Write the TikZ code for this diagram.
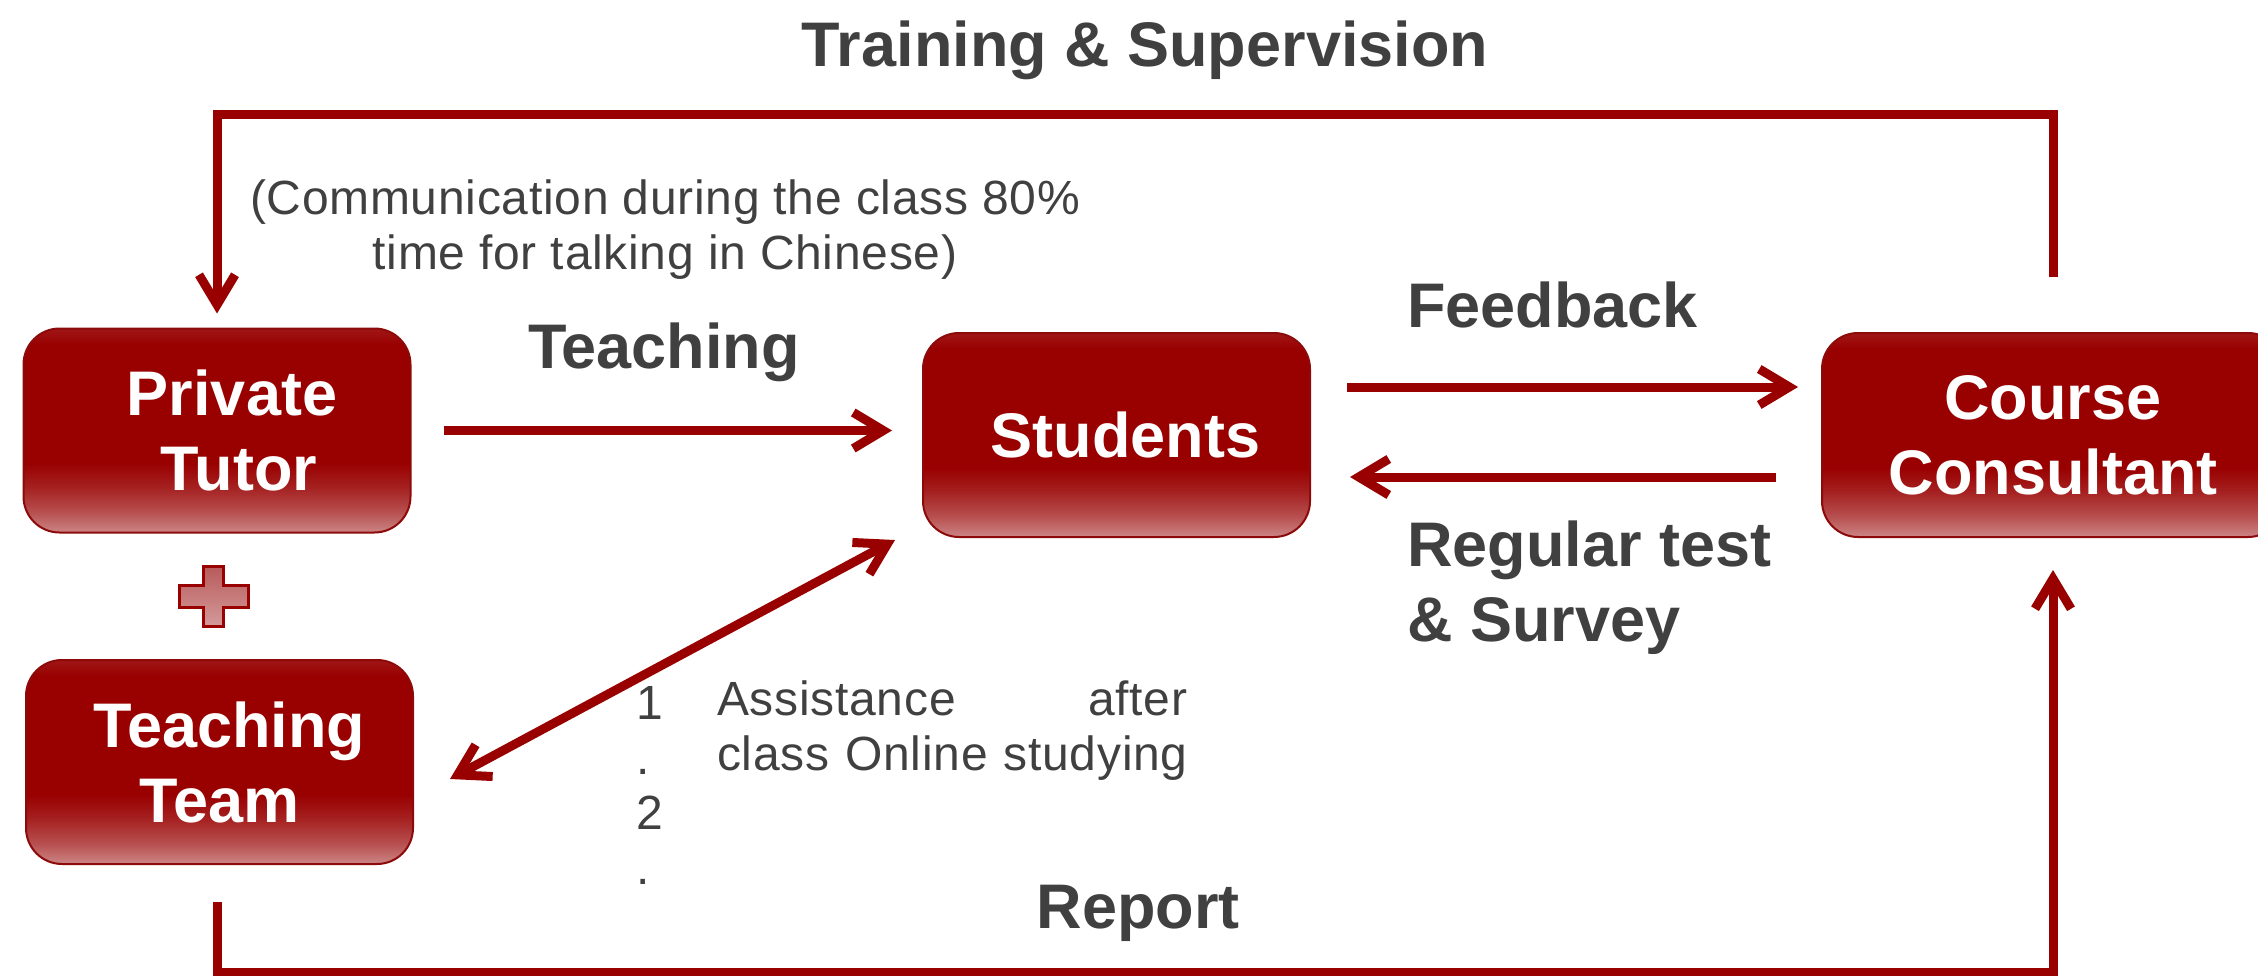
\documentclass[tikz,border=0pt]{standalone}
\usepackage{fontspec}
\setmainfont{Liberation Sans}
\newfontfamily\spacedfont[LetterSpace=1.5]{Liberation Sans}
\usetikzlibrary{arrows.meta,calc}

\definecolor{darkred}{HTML}{990000}
\definecolor{boxedge}{HTML}{8C0A0A}
\definecolor{boxlight}{HTML}{CC8585}
\definecolor{boxtop}{HTML}{A01616}
\definecolor{textgray}{HTML}{404040}
\definecolor{pluslight}{HTML}{D49A9A}
\definecolor{plusdark}{HTML}{B85A5A}

\pgfdeclareverticalshading{boxglow}{100bp}{color(0bp)=(boxlight); color(25bp)=(boxlight); color(30bp)=(boxlight!60!darkred); color(36bp)=(boxlight!25!darkred); color(42bp)=(darkred); color(71bp)=(darkred); color(75bp)=(boxtop); color(100bp)=(boxtop)}

\newcommand{\bigbold}{\fontsize{63}{75}\selectfont\bfseries}
\newcommand{\smallplain}{\spacedfont\fontsize{48}{55}\selectfont}

\begin{document}
\begin{tikzpicture}[x=1pt,y=1pt,yscale=-1,
	box/.style={rounded corners=36pt, draw=boxedge, line width=2pt, shading=boxglow, text=white, font=\bigbold, align=center, minimum width=387pt, minimum height=204pt, inner sep=0pt},
	lbl/.style={text=textgray, font=\bigbold, inner sep=0pt},
	note/.style={text=textgray, font=\smallplain, inner sep=0pt},
	flow/.style={draw=darkred, line width=9pt, -{Straight Barb[length=30pt,width=36pt,line join=miter]}},
	twoway/.style={flow, {Straight Barb[length=30pt,width=36pt,line join=miter]}-{Straight Barb[length=30pt,width=36pt,line join=miter]}}]
		\path[use as bounding box, clip] (0,0) rectangle (2258,976);

		% The four boxes
		\node[box] (tutor) at (217,430.5) {\hspace*{30pt}Private\\\hspace*{44pt}Tutor};
		\node[box] (team) at (219.5,762) {\hspace*{20pt}Teaching\\Team};
		\node[box] (students) at (1116.5,435) {\hspace*{18pt}Students};
		\node[box, minimum width=462pt] (consultant) at (2053,435) {Course\\Consultant};

		% The plus between tutor and team
		\draw[draw=darkred, line width=3pt, top color=plusdark, bottom color=pluslight]
		(203,566) -- (223,566) -- (223,585) -- (248,585) -- (248,607) -- (223,607) -- (223,626)
		-- (203,626) -- (203,607) -- (179,607) -- (179,585) -- (203,585) -- cycle;

		% Labels
		\node[lbl] (title) at (1145,50) {Training \& Supervision};
		\node[note, align=center] (talk) at (665,230) {(Communication during the class 80\%\\time for talking in Chinese)};
		\node[lbl] (teachlbl) at (664,352) {Teaching};
		\node[lbl, anchor=west] (feedlbl) at (1407,305) {Feedback};
		\node[lbl, anchor=west, align=left] (testlbl) at (1407,588) {Regular test\\\& Survey};
		\node[lbl] (reportlbl) at (1138,913) {Report};

		% The numbered list
		\node[note, align=left, anchor=west] (steps) at (636,785) {1\\.\\2\\.};
		\node[note, align=left, text width=470pt, anchor=west] (helps) at (717,731) {Assistance\hfill after\\class Online studying};

		% Frame lines
		\coordinate (topleft) at (217,115);
		\coordinate (topright) at (2053,115);
		\coordinate (botleft) at (217,972);
		\coordinate (botright) at (2053,972);

		% Training & Supervision
		\draw[flow, shorten <=55pt, shorten >=14pt] (consultant.north) -- (topright) -- (topleft) -- (tutor.north);

		% Report
		\draw[flow, shorten <=37pt, shorten >=32pt] (team.south -| botleft) -- (botleft) -- (botright) -- (consultant.south);

		% Teaching
		\draw[flow, shorten <=32pt, shorten >=30pt] (tutor.east) -- (tutor.east -| students.west);

		% Feedback and Regular test
		\draw[flow, shorten <=36pt, shorten >=23pt] ([yshift=-48pt]students.east) -- ([yshift=-48pt]students.east -| consultant.west);
		\draw[flow, shorten <=45pt, shorten >=39pt] ([yshift=42pt]consultant.west) -- ([yshift=42pt]consultant.west -| students.east);

		% Team and students
		\draw[twoway] ($(team.east)+(36,17)$) -- ($(students.south west)+(-27,2)$);
	\end{tikzpicture}
\end{document}
